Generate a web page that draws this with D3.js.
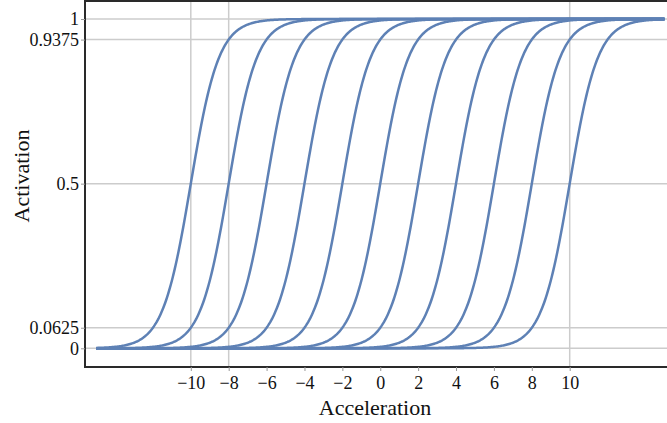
<!DOCTYPE html>
<html><head><meta charset="utf-8">
<script src="https://cdn.jsdelivr.net/npm/d3@7"></script>
<style>body{margin:0;background:#fff}svg{display:block}</style>
</head><body>
<svg id="c" width="667" height="423"></svg>
<script>
const centers = [-10, -8, -6, -4, -2, 0, 2, 4, 6, 8, 10];
const xTicks = [-10, -8, -6, -4, -2, 0, 2, 4, 6, 8, 10];
const yTicks = [0, 0.0625, 0.5, 0.9375, 1];
const xGrid = [-10, -8, 10];
const yGrid = [0, 0.0625, 0.5, 0.9375, 1];
const xRange = [-15, 15];
const steep = Math.log(15) / 2;

(function () {
const svg = d3.select("#c");
const x = d3.scaleLinear().domain([-10, 10]).range([190.8, 569.7]);
const y = d3.scaleLinear().domain([0, 1]).range([348.3, 19]);
const pLeft = 85, pBottom = 367, pTop = 0, pRight = 667;
const font = "'Liberation Serif', 'DejaVu Serif', serif";

// grid
svg.append("g").selectAll("line").data(yGrid).join("line")
  .attr("x1", pLeft).attr("x2", pRight).attr("y1", d => y(d)).attr("y2", d => y(d))
  .attr("stroke", "#cccccc").attr("stroke-width", 1.5);
svg.append("g").selectAll("line").data(xGrid).join("line")
  .attr("x1", d => x(d)).attr("x2", d => x(d)).attr("y1", pTop).attr("y2", pBottom)
  .attr("stroke", "#cccccc").attr("stroke-width", 1.5);

// curves
const line = d3.line().x(d => x(d[0])).y(d => y(d[1]));
const fn = c => d3.range(0, 601).map(i => {
  const t = xRange[0] + (xRange[1] - xRange[0]) * i / 600;
  return [t, 1 / (1 + Math.exp(-steep * (t - c)))];
});
svg.append("g").selectAll("path").data(centers).join("path")
  .attr("d", c => line(fn(c)))
  .attr("fill", "none").attr("stroke", "#5E81B5").attr("stroke-width", 2.5);

// frame
svg.append("path").attr("d", `M${pRight},${pTop + 1}H${pLeft}V${pBottom}H${pRight}`)
  .attr("fill", "none").attr("stroke", "#2a2a2a").attr("stroke-width", 2);

// x axis ticks
const xa = svg.append("g").attr("transform", `translate(0,${pBottom})`)
  .call(d3.axisBottom(x).tickValues(xTicks).tickSize(4).tickPadding(5)
    .tickFormat(d => d < 0 ? "\u2212" + Math.abs(d) : String(d)));
xa.select(".domain").remove();
xa.selectAll(".tick line").attr("stroke", "#999");
xa.selectAll("text").attr("font-family", font).attr("font-size", 18).attr("fill", "#111");

// y axis
const ya = svg.append("g").attr("transform", `translate(${pLeft},0)`)
  .call(d3.axisLeft(y).tickValues(yTicks).tickSize(4).tickPadding(2)
    .tickFormat(d => String(d)));
ya.select(".domain").remove();
ya.selectAll(".tick line").attr("stroke", "#999");
ya.selectAll("text").attr("font-family", font).attr("font-size", 18).attr("fill", "#111");

// titles
svg.append("text").attr("x", 375).attr("y", 415).attr("text-anchor", "middle")
  .attr("font-family", font).attr("font-size", 22).attr("fill", "#111").text("Acceleration");
svg.append("text").attr("transform", "translate(29,176) rotate(-90)").attr("text-anchor", "middle")
  .attr("font-family", font).attr("font-size", 22).attr("fill", "#111").text("Activation");
})();
</script>
</body></html>
